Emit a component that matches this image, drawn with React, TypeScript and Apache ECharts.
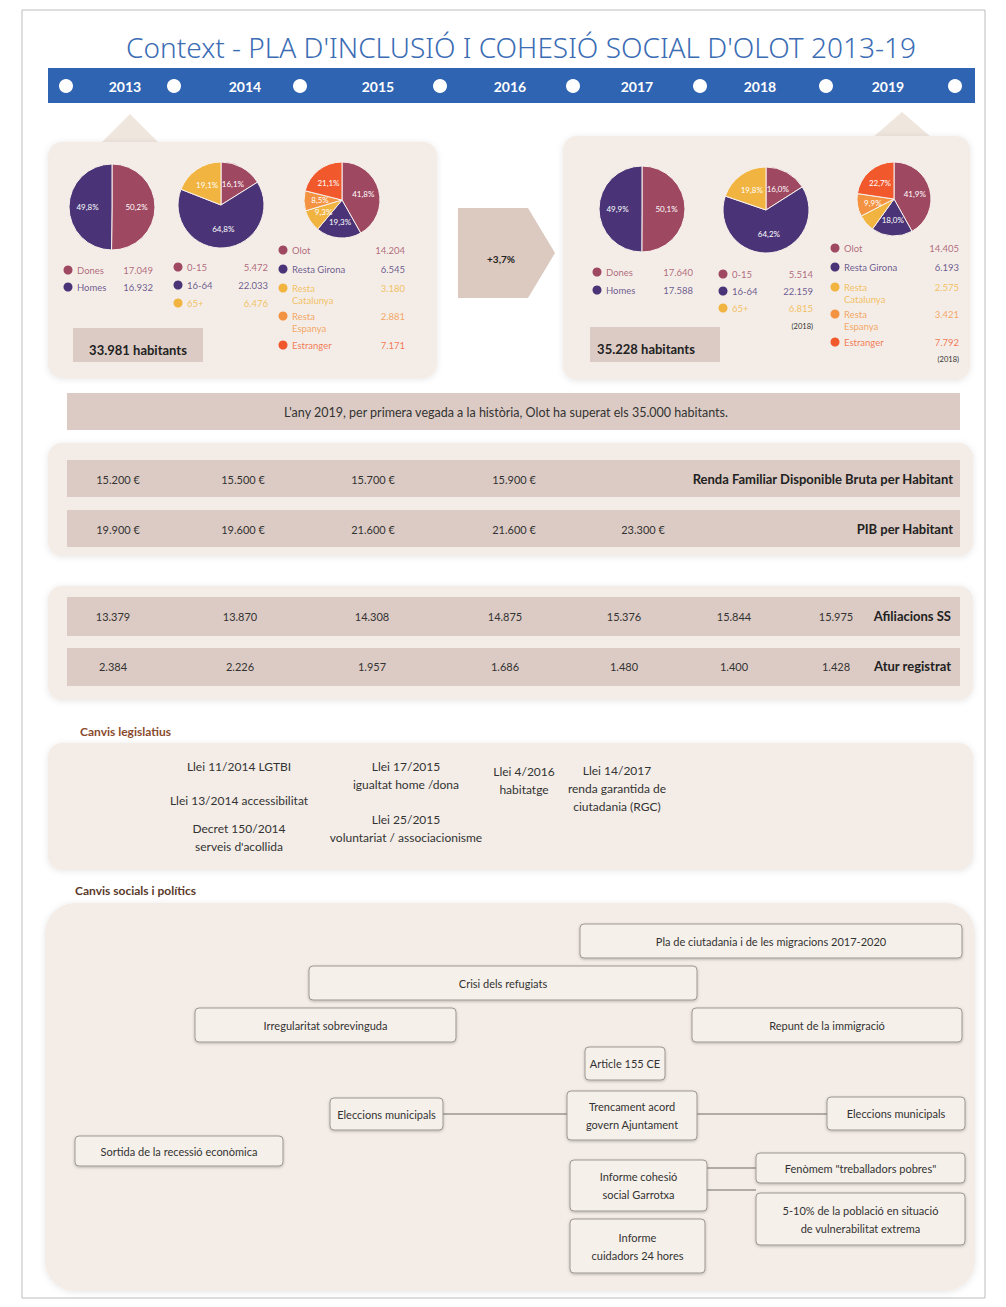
import { useEffect, useRef } from 'react';
import * as echarts from 'echarts';

// ---------- DATA ----------
const years = ['2013', '2014', '2015', '2016', '2017', '2018', '2019'];
const sexLabels = ['Dones', 'Homes'];
const sex2013 = [17049, 16932];
const sex2019 = [17640, 17588];
const ageLabels = ['0-15', '16-64', '65+'];
const age2013 = [5472, 22033, 6476];
const age2018 = [5514, 22159, 6815];
const originLabels = ['Olot', 'Resta Girona', 'Resta Catalunya', 'Resta Espanya', 'Estranger'];
const originLegend = ['Olot', 'Resta Girona', 'Resta\nCatalunya', 'Resta\nEspanya', 'Estranger'];
const origin2013 = [14204, 6545, 3180, 2881, 7171];
const origin2018 = [14405, 6193, 2575, 3421, 7792];
const population = [33981, 35228];
const rendaBruta = [15200, 15500, 15700, 15900, null, null, null];
const pibHabitant = [19900, 19600, 21600, 21600, 23300, null, null];
const afiliacionsSS = [13379, 13870, 14308, 14875, 15376, 15844, 15975];
const aturRegistrat = [2384, 2226, 1957, 1686, 1480, 1400, 1428];
const title = "Context - PLA D'INCLUSIÓ I COHESIÓ SOCIAL D'OLOT 2013-19";
const banner = "L'any 2019, per primera vegada a la història, Olot ha superat els 35.000 habitants.";
const laws = [
  'Llei 11/2014 LGTBI',
  'Llei 13/2014 accessibilitat',
  'Decret 150/2014\nserveis d\'acollida',
  'Llei 17/2015\nigualtat home /dona',
  'Llei 25/2015\nvoluntariat / associacionisme',
  'Llei 4/2016\nhabitatge',
  'Llei 14/2017\nrenda garantida de\nciutadania (RGC)',
];
const socialEvents = [
  'Pla de ciutadania i de les migracions 2017-2020',
  'Crisi dels refugiats',
  'Irregularitat sobrevinguda',
  'Repunt de la immigració',
  'Article 155 CE',
  'Eleccions municipals',
  'Trencament acord\ngovern Ajuntament',
  'Eleccions municipals',
  'Sortida de la recessió econòmica',
  'Informe cohesió\nsocial Garrotxa',
  'Fenòmem "treballadors pobres"',
  '5-10% de la població en situació\nde vulnerabilitat extrema',
  'Informe\ncuidadors 24 hores',
];

// ---------- STYLE / LAYOUT ----------
const C = {
  maroon: '#9f4862',
  purple: '#4a3477',
  yellow: '#f1b440',
  orange: '#f39342',
  red: '#f1592d',
  beige: '#f4ede7',
  rose: '#dccbc4',
  blue: '#2f64b2',
  text: '#333',
};
const sexColors = [C.maroon, C.purple];
const ageColors = [C.maroon, C.purple, C.yellow];
const originColors = [C.maroon, C.purple, C.yellow, C.orange, C.red];
const FONT = 'Lato';

const fmt = (n: number) => String(n).replace(/\B(?=(\d{3})+(?!\d))/g, '.');

function pie(center: number[], radius: number, labels: string[], values: number[], colors: string[]) {
  return {
    type: 'pie',
    center,
    radius,
    startAngle: 90,
    clockwise: true,
    z: 10,
    percentPrecision: 1,
    silent: true,
    label: {
      show: true,
      position: 'inside',
      color: '#fff',
      fontSize: 8,
      fontFamily: FONT,
      formatter: (p: any) => p.percent.toFixed(1).replace('.', ',') + '%',
    },
    labelLine: { show: false },
    itemStyle: { borderColor: '#f7f1ec', borderWidth: 1 },
    data: labels.map((n, i) => ({ name: n, value: values[i], itemStyle: { color: colors[i] } })),
  };
}

function T(x: number, y: number, text: string, o: any = {}) {
  return {
    type: 'text',
    silent: true,
    z: o.z ?? 5,
    style: {
      x,
      y,
      text,
      fill: o.fill ?? C.text,
      fontSize: o.size ?? 10,
      fontWeight: o.weight ?? 'normal',
      fontFamily: o.font ?? FONT,
      textAlign: o.align ?? 'center',
      textVerticalAlign: o.va ?? 'middle',
      lineHeight: o.lh ?? Math.round((o.size ?? 10) * 1.5),
      opacity: o.op ?? 1,
    },
  };
}
function R(x: number, y: number, w: number, h: number, fill: string, r = 0, extra: any = {}, z = 1) {
  return { type: 'rect', silent: true, z, shape: { x, y, width: w, height: h, r }, style: { fill, ...extra } };
}

function buildGraphics() {
  const g: any[] = [];
  const shadow = { shadowBlur: 6, shadowColor: 'rgba(0,0,0,0.10)', shadowOffsetY: 1 };

  // page frame
  g.push(R(22, 10, 963, 1288, 'none', 0, { stroke: '#bdbdbd', lineWidth: 1 }, 0));

  // title
  g.push(T(521, 47, title, { fill: '#3b6cb4', size: 28, font: 'Noto Sans', weight: 300 }));

  // timeline bar
  g.push(R(48, 68, 927, 35, C.blue, 0, {}, 1));
  const dotX = [66, 174, 300, 440, 573, 700, 826, 955];
  dotX.forEach((x) => g.push({ type: 'circle', silent: true, z: 3, shape: { cx: x, cy: 86, r: 7 }, style: { fill: '#fff' } }));
  const yearX = [125, 245, 378, 510, 637, 760, 888];
  years.forEach((y, i) => g.push(T(yearX[i], 86, y, { fill: '#fff', size: 14, weight: 'bold' })));

  // callout boxes
  g.push({ type: 'polygon', silent: true, z: 1, shape: { points: [[100, 144], [130, 114], [160, 144]] }, style: { fill: '#efe6de' } });
  g.push({ type: 'polygon', silent: true, z: 1, shape: { points: [[872, 138], [902, 112], [932, 138]] }, style: { fill: '#efe6de' } });
  g.push(R(48, 142, 389, 236, C.beige, 14, shadow, 1));
  g.push(R(563, 136, 407, 244, C.beige, 14, shadow, 1));

  // arrow growth
  g.push({
    type: 'polygon', silent: true, z: 2,
    shape: { points: [[458, 208], [528, 208], [555, 253], [528, 298], [458, 298]] },
    style: { fill: '#dcc9bf' },
  });
  const growth = ((population[1] - population[0]) / population[0]) * 100;
  g.push(T(501, 259, '+' + growth.toFixed(1).replace('.', ',') + '%', { size: 10, weight: 'bold', fill: '#222' }));

  // legends
  function legend(dx: number, ys: number[], labels: string[], values: number[], colors: string[], valRight: number) {
    labels.forEach((lab, i) => {
      g.push({ type: 'circle', silent: true, z: 4, shape: { cx: dx, cy: ys[i], r: 4.5 }, style: { fill: colors[i] } });
      g.push(T(dx + 9, ys[i] - 6, lab, { align: 'left', va: 'top', size: 9.5, lh: 12, fill: colors[i], op: 0.8 }));
      g.push(T(valRight, ys[i], fmt(values[i]), { align: 'right', size: 9.5, fill: colors[i], op: 0.8 }));
    });
  }
  legend(68, [270, 287], sexLabels, sex2013, sexColors, 153);
  legend(178, [267, 285, 303], ageLabels, age2013, ageColors, 268);
  legend(283, [250, 269, 288, 316, 345], originLegend, origin2013, originColors, 405);
  legend(597, [272, 290], sexLabels, sex2019, sexColors, 693);
  legend(723, [274, 291, 308], ageLabels, age2018, ageColors, 813);
  legend(835, [248, 267, 287, 314, 342], originLegend, origin2018, originColors, 959);
  g.push(T(813, 326, '(2018)', { align: 'right', size: 7.5, fill: '#333' }));
  g.push(T(959, 359, '(2018)', { align: 'right', size: 7.5, fill: '#333' }));

  // population boxes
  g.push(R(73, 328, 130, 34, '#dccbc4', 0, {}, 2));
  g.push(T(138, 350, fmt(population[0]) + ' habitants', { size: 13, weight: 'bold', fill: '#222' }));
  g.push(R(590, 327, 130, 35, '#dccbc4', 0, {}, 2));
  g.push(T(646, 349, fmt(population[1]) + ' habitants', { size: 13, weight: 'bold', fill: '#222' }));

  // banner
  g.push(R(67, 393, 893, 37, C.rose, 0, {}, 1));
  g.push(T(506, 412, banner, { size: 12.5 }));

  // economic section
  g.push(R(48, 443, 925, 113, C.beige, 14, shadow, 1));
  g.push(R(67, 460, 893, 37, C.rose, 0, {}, 2));
  g.push(R(67, 510, 893, 37, C.rose, 0, {}, 2));
  const colA = [118, 243, 373, 514, 643, 763, 880];
  rendaBruta.forEach((v, i) => { if (v != null) g.push(T(colA[i], 479, fmt(v) + ' €', { size: 11 })); });
  pibHabitant.forEach((v, i) => { if (v != null) g.push(T(colA[i], 529, fmt(v) + ' €', { size: 11 })); });
  g.push(T(953, 479, 'Renda Familiar Disponible Bruta per Habitant', { align: 'right', size: 13, weight: 'bold', fill: '#222' }));
  g.push(T(953, 529, 'PIB per Habitant', { align: 'right', size: 13, weight: 'bold', fill: '#222' }));

  // labour section
  g.push(R(48, 586, 925, 114, C.beige, 14, shadow, 1));
  g.push(R(67, 597, 893, 39, C.rose, 0, {}, 2));
  g.push(R(67, 648, 893, 38, C.rose, 0, {}, 2));
  const colB = [113, 240, 372, 505, 624, 734, 836];
  afiliacionsSS.forEach((v, i) => g.push(T(colB[i], 616, fmt(v), { size: 11 })));
  aturRegistrat.forEach((v, i) => g.push(T(colB[i], 666, fmt(v), { size: 11 })));
  g.push(T(951, 616, 'Afiliacions SS', { align: 'right', size: 13, weight: 'bold', fill: '#222' }));
  g.push(T(951, 666, 'Atur registrat', { align: 'right', size: 13, weight: 'bold', fill: '#222' }));

  // legislative
  g.push(T(80, 731, 'Canvis legislatius', { align: 'left', size: 12, weight: 'bold', fill: '#8a4b2e' }));
  g.push(R(48, 743, 925, 127, C.beige, 14, shadow, 1));
  const lawPos = [[239, 766], [239, 800], [239, 837], [406, 775], [406, 828], [524, 780], [617, 788]];
  laws.forEach((l, i) => g.push(T(lawPos[i][0], lawPos[i][1], l, { size: 12, lh: 18 })));

  // social
  g.push(T(75, 890, 'Canvis socials i polítics', { align: 'left', size: 12, weight: 'bold', fill: '#5a3a2a' }));
  g.push(R(45, 903, 930, 388, C.beige, 30, shadow, 1));
  const boxes = [
    [580, 924, 382, 34], [309, 966, 388, 34], [195, 1008, 261, 34], [692, 1008, 270, 34],
    [585, 1047, 80, 33], [330, 1098, 113, 32], [567, 1091, 130, 49], [827, 1097, 138, 33],
    [75, 1136, 208, 30], [570, 1160, 137, 51], [756, 1153, 209, 30], [756, 1193, 209, 52],
    [570, 1219, 135, 54],
  ];
  const lines = [
    [443, 1114, 567, 1114], [697, 1114, 827, 1114], [707, 1168, 756, 1168], [707, 1190, 756, 1190],
  ];
  lines.forEach((l) => g.push({ type: 'line', silent: true, z: 2, shape: { x1: l[0], y1: l[1], x2: l[2], y2: l[3] }, style: { stroke: '#9b948f', lineWidth: 1.5 } }));
  boxes.forEach((b, i) => {
    g.push(R(b[0], b[1], b[2], b[3], '#f6f0ea', 4, { stroke: '#9d9792', lineWidth: 1, shadowBlur: 3, shadowColor: 'rgba(0,0,0,0.25)', shadowOffsetY: 1 }, 3));
    g.push(T(b[0] + b[2] / 2, b[1] + b[3] / 2, socialEvents[i], { size: 11, lh: 18, z: 6 }));
  });

  return g;
}

export default function App() {
  const ref = useRef<HTMLDivElement>(null);
  useEffect(() => {
    if (!ref.current) return;
    const chart = echarts.init(ref.current, null, { renderer: 'svg' });
    chart.setOption({
      animation: false,
      backgroundColor: '#ffffff',
      series: [
        pie([112, 207], 43, sexLabels, sex2013, sexColors),
        pie([221, 205], 43, ageLabels, age2013, ageColors),
        pie([342, 200], 38, originLabels, origin2013, originColors),
        pie([642, 209], 43, sexLabels, sex2019, sexColors),
        pie([766, 210], 43, ageLabels, age2018, ageColors),
        pie([894, 199], 37, originLabels, origin2018, originColors),
      ],
      graphic: { elements: buildGraphics() },
    });
    return () => chart.dispose();
  }, []);
  return <div ref={ref} style={{ position: 'absolute', left: 0, top: 0, width: 1006, height: 1307 }} />;
}
